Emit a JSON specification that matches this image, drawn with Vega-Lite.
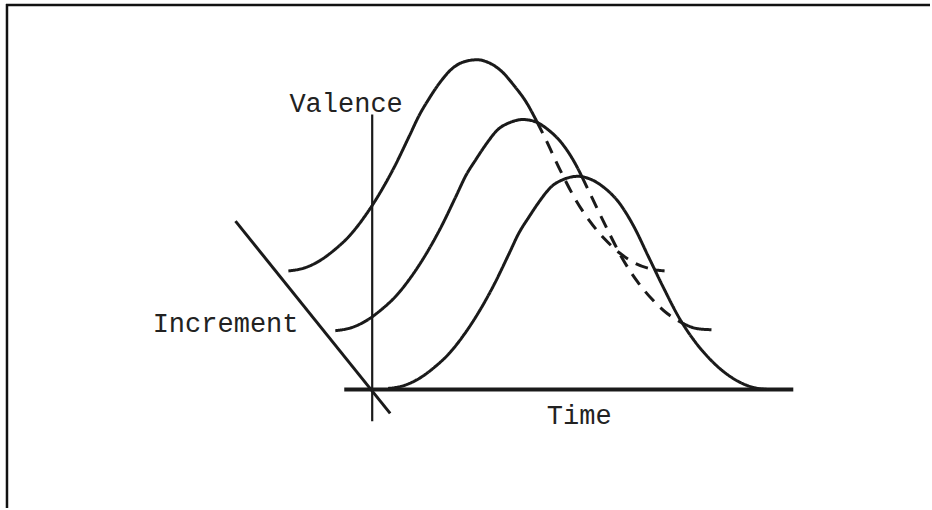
{
  "$schema": "https://vega.github.io/schema/vega-lite/v6.json",
  "width": 932,
  "height": 510,
  "padding": 0,
  "autosize": {"type": "fit", "contains": "padding"},
  "background": "white",
  "config": {"view": {"stroke": null}},
  "datasets": {
    "frame": [
      {"x": 6, "y": 5, "x2": 932, "y2": 5},
      {"x": 7, "y": 4, "x2": 7, "y2": 510}
    ],
    "axes": [
      {"name": "valence", "x": 373, "y": 115, "x2": 373, "y2": 423, "w": 2.2},
      {"name": "time", "x": 345, "y": 391, "x2": 795, "y2": 391, "w": 4},
      {"name": "increment", "x": 236, "y": 222, "x2": 391, "y2": 415, "w": 3}
    ],
    "curves": [
      {"seg": "front", "style": "solid", "x": 389, "y": 390},
      {"seg": "front", "style": "solid", "x": 405, "y": 387},
      {"seg": "front", "style": "solid", "x": 420, "y": 380},
      {"seg": "front", "style": "solid", "x": 435, "y": 369},
      {"seg": "front", "style": "solid", "x": 450, "y": 355},
      {"seg": "front", "style": "solid", "x": 465, "y": 336},
      {"seg": "front", "style": "solid", "x": 480, "y": 313},
      {"seg": "front", "style": "solid", "x": 495, "y": 286},
      {"seg": "front", "style": "solid", "x": 510, "y": 255},
      {"seg": "front", "style": "solid", "x": 520, "y": 234},
      {"seg": "front", "style": "solid", "x": 530, "y": 218},
      {"seg": "front", "style": "solid", "x": 540, "y": 203},
      {"seg": "front", "style": "solid", "x": 553, "y": 187},
      {"seg": "front", "style": "solid", "x": 565, "y": 180},
      {"seg": "front", "style": "solid", "x": 579, "y": 177},
      {"seg": "front", "style": "solid", "x": 592, "y": 180},
      {"seg": "front", "style": "solid", "x": 605, "y": 188},
      {"seg": "front", "style": "solid", "x": 620, "y": 203},
      {"seg": "front", "style": "solid", "x": 635, "y": 227},
      {"seg": "front", "style": "solid", "x": 650, "y": 258},
      {"seg": "front", "style": "solid", "x": 665, "y": 289},
      {"seg": "front", "style": "solid", "x": 680, "y": 318},
      {"seg": "front", "style": "solid", "x": 695, "y": 341},
      {"seg": "front", "style": "solid", "x": 710, "y": 359},
      {"seg": "front", "style": "solid", "x": 725, "y": 373},
      {"seg": "front", "style": "solid", "x": 740, "y": 383},
      {"seg": "front", "style": "solid", "x": 755, "y": 389},
      {"seg": "front", "style": "solid", "x": 770, "y": 391},

      {"seg": "m1", "style": "solid", "x": 336, "y": 332},
      {"seg": "m1", "style": "solid", "x": 352, "y": 329},
      {"seg": "m1", "style": "solid", "x": 367, "y": 322},
      {"seg": "m1", "style": "solid", "x": 382, "y": 311},
      {"seg": "m1", "style": "solid", "x": 397, "y": 297},
      {"seg": "m1", "style": "solid", "x": 412, "y": 278},
      {"seg": "m1", "style": "solid", "x": 427, "y": 255},
      {"seg": "m1", "style": "solid", "x": 442, "y": 228},
      {"seg": "m1", "style": "solid", "x": 457, "y": 197},
      {"seg": "m1", "style": "solid", "x": 467, "y": 176},
      {"seg": "m1", "style": "solid", "x": 477, "y": 160},
      {"seg": "m1", "style": "solid", "x": 487, "y": 145},
      {"seg": "m1", "style": "solid", "x": 499, "y": 130},
      {"seg": "m1", "style": "solid", "x": 511, "y": 123},
      {"seg": "m1", "style": "solid", "x": 524, "y": 120},
      {"seg": "m1", "style": "solid", "x": 536, "y": 122},
      {"seg": "m1", "style": "solid", "x": 549, "y": 130},
      {"seg": "m1", "style": "solid", "x": 564, "y": 145},
      {"seg": "m1", "style": "solid", "x": 579, "y": 169},
      {"seg": "m1", "style": "solid", "x": 583, "y": 177},
      {"seg": "m2", "style": "dashed", "x": 583, "y": 177},
      {"seg": "m2", "style": "dashed", "x": 594, "y": 200},
      {"seg": "m2", "style": "dashed", "x": 609, "y": 231},
      {"seg": "m2", "style": "dashed", "x": 624, "y": 260},
      {"seg": "m2", "style": "dashed", "x": 639, "y": 283},
      {"seg": "m2", "style": "dashed", "x": 654, "y": 301},
      {"seg": "m2", "style": "dashed", "x": 669, "y": 315},
      {"seg": "m2", "style": "dashed", "x": 685, "y": 325},
      {"seg": "m3", "style": "solid", "x": 685, "y": 325},
      {"seg": "m3", "style": "solid", "x": 699, "y": 330},
      {"seg": "m3", "style": "solid", "x": 713, "y": 331},

      {"seg": "b1", "style": "solid", "x": 289, "y": 272},
      {"seg": "b1", "style": "solid", "x": 305, "y": 269},
      {"seg": "b1", "style": "solid", "x": 320, "y": 262},
      {"seg": "b1", "style": "solid", "x": 335, "y": 251},
      {"seg": "b1", "style": "solid", "x": 350, "y": 237},
      {"seg": "b1", "style": "solid", "x": 365, "y": 218},
      {"seg": "b1", "style": "solid", "x": 380, "y": 195},
      {"seg": "b1", "style": "solid", "x": 395, "y": 168},
      {"seg": "b1", "style": "solid", "x": 410, "y": 137},
      {"seg": "b1", "style": "solid", "x": 420, "y": 116},
      {"seg": "b1", "style": "solid", "x": 430, "y": 99},
      {"seg": "b1", "style": "solid", "x": 440, "y": 84},
      {"seg": "b1", "style": "solid", "x": 453, "y": 69},
      {"seg": "b1", "style": "solid", "x": 465, "y": 62},
      {"seg": "b1", "style": "solid", "x": 478, "y": 60},
      {"seg": "b1", "style": "solid", "x": 490, "y": 63},
      {"seg": "b1", "style": "solid", "x": 502, "y": 71},
      {"seg": "b1", "style": "solid", "x": 516, "y": 87},
      {"seg": "b1", "style": "solid", "x": 527, "y": 102},
      {"seg": "b1", "style": "solid", "x": 538, "y": 122},
      {"seg": "b2", "style": "dashed", "x": 538, "y": 122},
      {"seg": "b2", "style": "dashed", "x": 546, "y": 138},
      {"seg": "b2", "style": "dashed", "x": 561, "y": 170},
      {"seg": "b2", "style": "dashed", "x": 576, "y": 199},
      {"seg": "b2", "style": "dashed", "x": 591, "y": 222},
      {"seg": "b2", "style": "dashed", "x": 606, "y": 240},
      {"seg": "b2", "style": "dashed", "x": 621, "y": 254},
      {"seg": "b2", "style": "dashed", "x": 636, "y": 264},
      {"seg": "b2", "style": "dashed", "x": 656, "y": 271},
      {"seg": "b3", "style": "solid", "x": 656, "y": 271},
      {"seg": "b3", "style": "solid", "x": 666, "y": 272}
    ],
    "labels": [
      {"text": "Valence", "x": 290, "y": 112},
      {"text": "Increment", "x": 153, "y": 333},
      {"text": "Time", "x": 548, "y": 426}
    ]
  },
  "layer": [
    {
      "data": {"name": "frame"},
      "mark": {"type": "rule", "color": "#111111", "strokeWidth": 2.5},
      "encoding": {
        "x": {"field": "x", "type": "quantitative", "scale": {"domain": [0, 932], "nice": false, "zero": false}, "axis": null},
        "y": {"field": "y", "type": "quantitative", "scale": {"domain": [0, 510], "nice": false, "zero": false, "reverse": true}, "axis": null},
        "x2": {"field": "x2"},
        "y2": {"field": "y2"}
      }
    },
    {
      "data": {"name": "axes"},
      "mark": {"type": "rule", "color": "#1a1a1a"},
      "encoding": {
        "x": {"field": "x", "type": "quantitative", "scale": {"domain": [0, 932], "nice": false, "zero": false}, "axis": null},
        "y": {"field": "y", "type": "quantitative", "scale": {"domain": [0, 510], "nice": false, "zero": false, "reverse": true}, "axis": null},
        "x2": {"field": "x2"},
        "y2": {"field": "y2"},
        "strokeWidth": {"field": "w", "type": "quantitative", "scale": {"domain": [0, 10], "range": [0, 10]}, "legend": null}
      }
    },
    {
      "data": {"name": "curves"},
      "mark": {"type": "line", "color": "#1a1a1a", "strokeWidth": 3, "interpolate": "monotone", "strokeCap": "butt"},
      "encoding": {
        "x": {"field": "x", "type": "quantitative", "scale": {"domain": [0, 932], "nice": false, "zero": false}, "axis": null},
        "y": {"field": "y", "type": "quantitative", "scale": {"domain": [0, 510], "nice": false, "zero": false, "reverse": true}, "axis": null},
        "detail": {"field": "seg", "type": "nominal"},
        "strokeDash": {"field": "style", "type": "nominal", "scale": {"domain": ["solid", "dashed"], "range": [[1, 0], [13, 9]]}, "legend": null}
      }
    },
    {
      "data": {"name": "labels"},
      "mark": {"type": "text", "font": "Liberation Mono", "fontSize": 27, "align": "left", "baseline": "alphabetic", "color": "#222222"},
      "encoding": {
        "x": {"field": "x", "type": "quantitative", "scale": {"domain": [0, 932], "nice": false, "zero": false}, "axis": null},
        "y": {"field": "y", "type": "quantitative", "scale": {"domain": [0, 510], "nice": false, "zero": false, "reverse": true}, "axis": null},
        "text": {"field": "text"}
      }
    }
  ]
}
